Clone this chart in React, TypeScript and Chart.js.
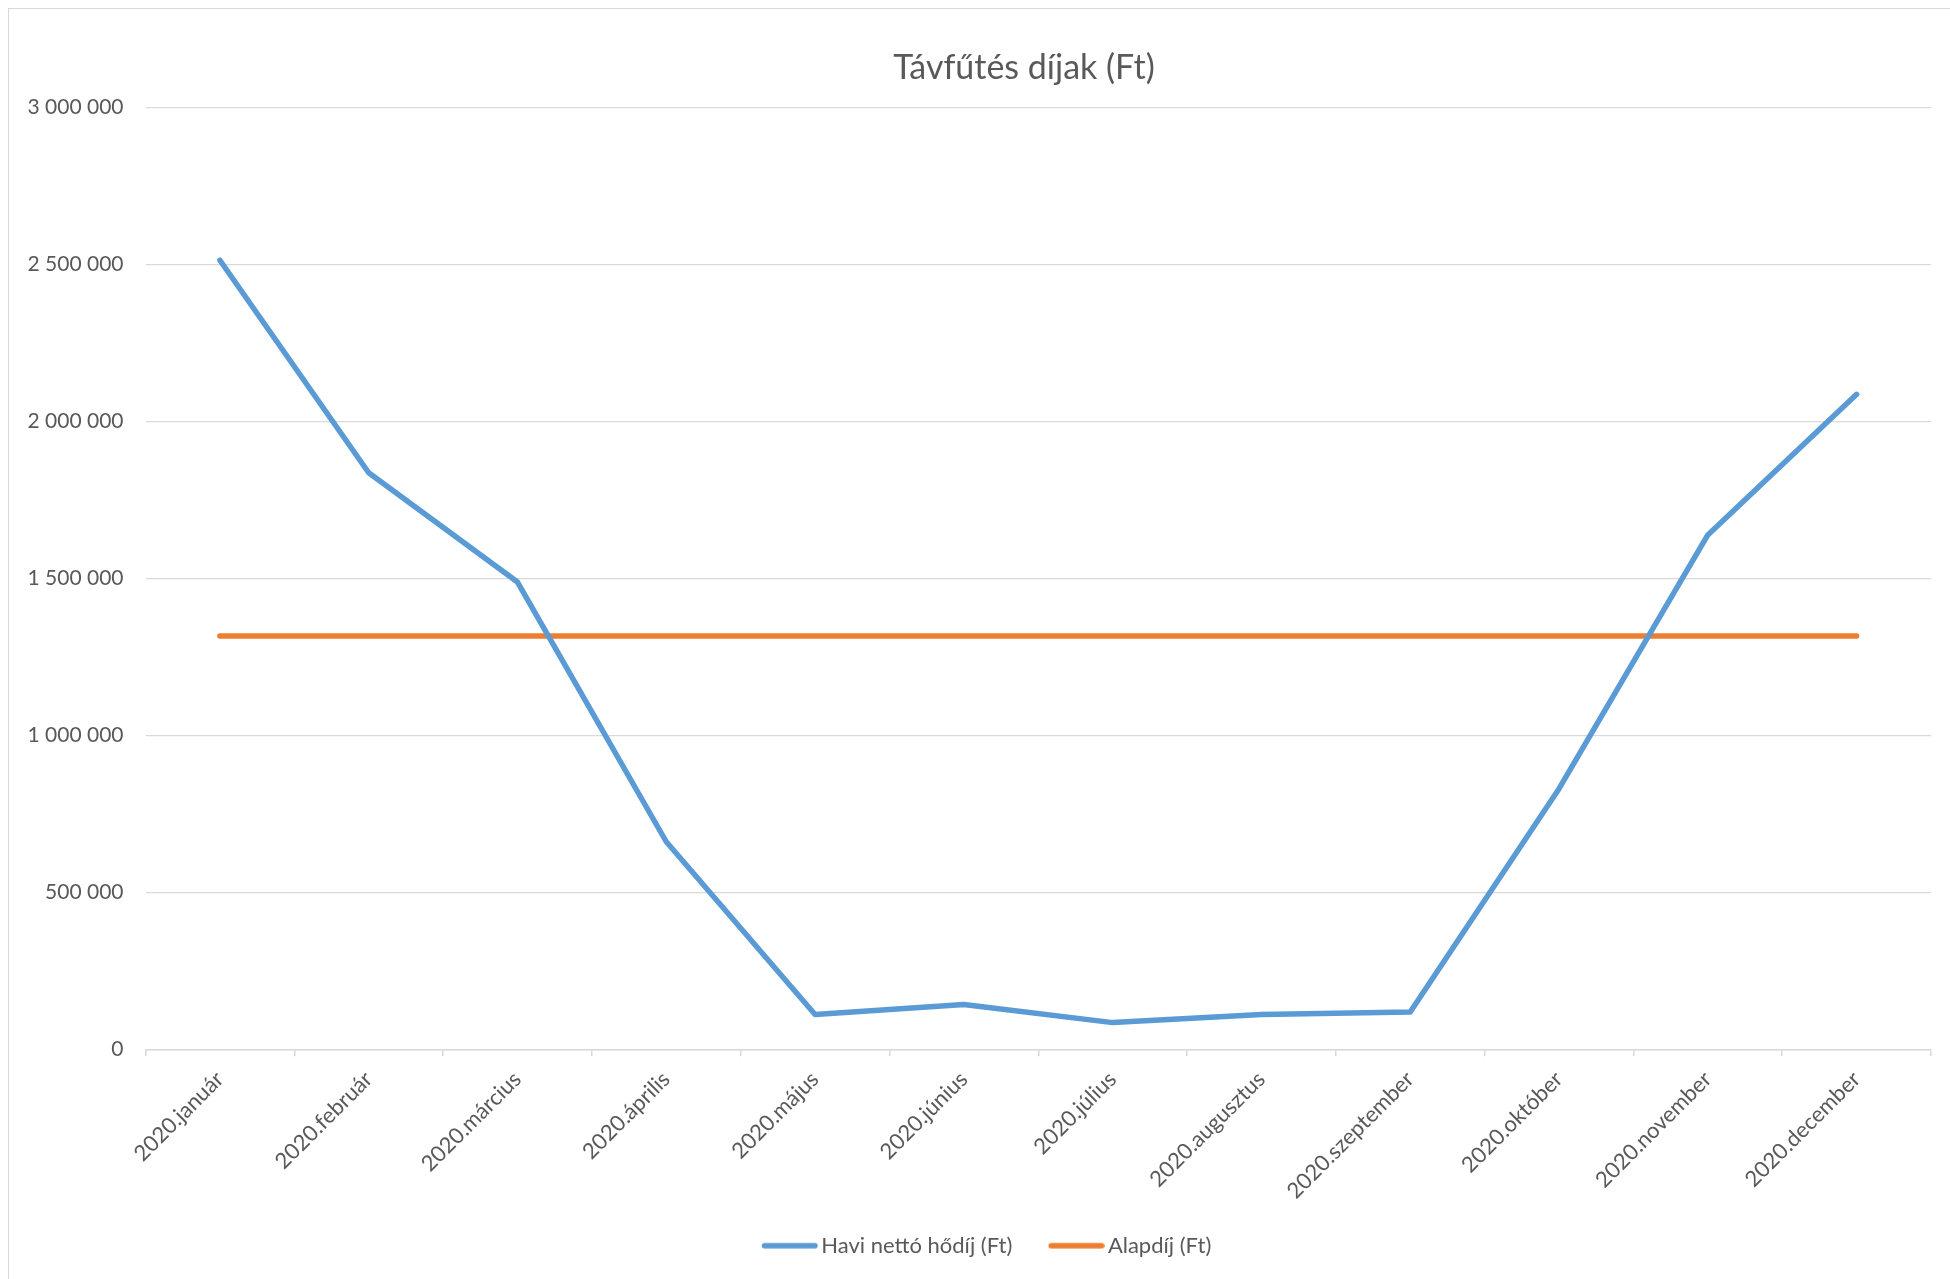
import React, { useEffect, useRef } from "react";
import { Chart, registerables } from "chart.js";

Chart.register(...registerables);

const chartTitle = "Távfűtés díjak (Ft)";
const categories = [
  "2020.január",
  "2020.február",
  "2020.március",
  "2020.április",
  "2020.május",
  "2020.június",
  "2020.július",
  "2020.augusztus",
  "2020.szeptember",
  "2020.október",
  "2020.november",
  "2020.december",
];
const seriesNames = ["Havi nettó hődíj (Ft)", "Alapdíj (Ft)"];
const seriesColors = ["#5B9BD5", "#ED7D31"];
const haviNettoHodij = [2513000, 1836000, 1488000, 661000, 111000, 143000, 85000, 111000, 119000, 830000, 1638000, 2086000];
const alapdij = [1316000, 1316000, 1316000, 1316000, 1316000, 1316000, 1316000, 1316000, 1316000, 1316000, 1316000, 1316000];
const yMin = 0;
const yMax = 3000000;
const yStep = 500000;

const TEXT = "#595959";
const GRID = "#d9d9d9";
const FONT = "Lato";
const LINE_W = 5.5;

function formatThousands(v: number): string {
  return String(Math.round(v)).replace(/\B(?=(\d{3})+(?!\d))/g, " ");
}

function makeLegendMarker(color: string): HTMLCanvasElement {
  const c = document.createElement("canvas");
  c.width = 64;
  c.height = 8;
  const ctx = c.getContext("2d");
  if (ctx) {
    ctx.strokeStyle = color;
    ctx.lineWidth = LINE_W;
    ctx.lineCap = "round";
    ctx.beginPath();
    ctx.moveTo(7.75 + LINE_W / 2, 4);
    ctx.lineTo(63.75 - LINE_W / 2, 4);
    ctx.stroke();
  }
  return c;
}

export default function App() {
  const canvasRef = useRef<HTMLCanvasElement | null>(null);

  useEffect(() => {
    if (!canvasRef.current) return;
    Chart.defaults.font.family = FONT;
    Chart.defaults.color = TEXT;

    const markers = seriesColors.map(makeLegendMarker);

    const legendShift = {
      id: "legendShift",
      afterLayout(chart: any) {
        const l = chart.legend;
        if (l) {
          l.left -= 37.5;
          l.right -= 37.5;
        }
      },
    };

    const chart = new Chart(canvasRef.current, {
      type: "line",
      data: {
        labels: categories,
        datasets: [
          {
            label: seriesNames[0],
            data: haviNettoHodij,
            borderColor: seriesColors[0],
            backgroundColor: seriesColors[0],
            borderWidth: LINE_W,
            pointRadius: 0,
            tension: 0,
            borderCapStyle: "round",
            borderJoinStyle: "round",
            yAxisID: "y",
          },
          {
            label: seriesNames[1],
            data: alapdij,
            borderColor: seriesColors[1],
            backgroundColor: seriesColors[1],
            borderWidth: LINE_W,
            pointRadius: 0,
            tension: 0,
            borderCapStyle: "round",
            borderJoinStyle: "round",
            yAxisID: "y",
          },
        ],
      },
      options: {
        animation: false,
        responsive: true,
        maintainAspectRatio: false,
        layout: { padding: { left: 0, right: 0, top: 0, bottom: 40.3 } },
        plugins: {
          title: {
            display: true,
            text: chartTitle,
            color: TEXT,
            font: { family: FONT, size: 34, weight: "normal" },
            padding: { top: 38.5, bottom: 19 },
          },
          legend: {
            display: true,
            position: "bottom",
            labels: {
              usePointStyle: true,
              pointStyleWidth: 48.5,
              padding: 36,
              color: TEXT,
              font: { family: FONT, size: 22 },
              generateLabels: (ch: any) => {
                const items = (Chart.defaults as any).plugins.legend.labels.generateLabels(ch);
                items.forEach((it: any, i: number) => {
                  it.pointStyle = markers[i % markers.length];
                });
                return items;
              },
            },
          },
          tooltip: { enabled: false },
        },
        scales: {
          x: {
            type: "category",
            offset: true,
            grid: {
              display: true,
              drawOnChartArea: false,
              drawTicks: true,
              tickLength: 7,
              offset: true,
              color: GRID,
              lineWidth: 1.5,
            },
            border: { display: true, color: GRID, width: 1.5 },
            ticks: {
              autoSkip: false,
              minRotation: 45,
              maxRotation: 45,
              padding: 10,
              color: TEXT,
              font: { family: FONT, size: 22 },
            },
            afterFit: (s: any) => {
              s.height = 149.4;
            },
          },
          y: {
            type: "linear",
            position: "left",
            min: yMin,
            max: yMax,
            ticks: {
              stepSize: yStep,
              padding: 22,
              color: TEXT,
              font: { family: FONT, size: 21 },
              callback: (v: any) => formatThousands(Number(v)),
            },
            grid: { display: true, drawTicks: false, color: GRID, lineWidth: 1.3 },
            border: { display: false },
            afterFit: (s: any) => {
              s.width = 136.5;
            },
          },
          yRight: {
            type: "linear",
            position: "right",
            display: true,
            grid: { display: false, drawTicks: false },
            border: { display: false },
            ticks: { display: false },
            afterFit: (s: any) => {
              s.width = 108;
            },
          },
        },
      },
      plugins: [legendShift],
    } as any);

    return () => chart.destroy();
  }, []);

  return (
    <div
      style={{
        position: "absolute",
        top: 8,
        left: 8,
        width: 1942,
        height: 1271,
        overflow: "hidden",
      }}
    >
      <div
        style={{
          width: 2032,
          height: 1300,
          border: "1px solid #d9d9d9",
          boxSizing: "border-box",
          position: "relative",
          background: "#ffffff",
        }}
      >
        <canvas ref={canvasRef} />
      </div>
    </div>
  );
}
